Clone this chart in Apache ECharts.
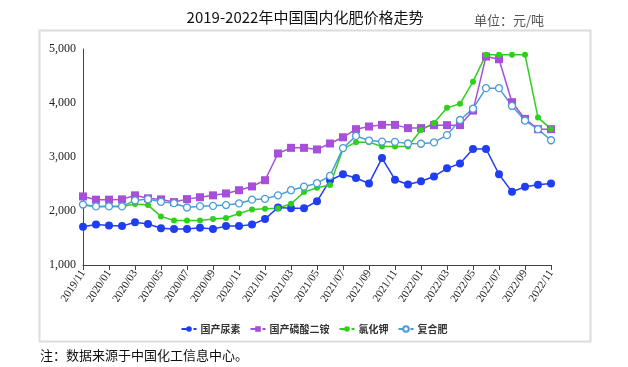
<!DOCTYPE html>
<html>
<head>
<meta charset="utf-8">
<script src="https://cdn.jsdelivr.net/npm/echarts@6/dist/echarts.min.js"></script>
<style>
html,body{margin:0;padding:0;background:#fff;}
#c{width:628px;height:367px;}
</style>
</head>
<body>
<div id="c"></div>
<script>
// Months 2019/11 .. 2022/11
const categories = [];
(function(){ let y=2019,m=11; for(let i=0;i<37;i++){ categories.push(y+'/'+(m<10?'0'+m:m)); m++; if(m>12){m=1;y++;} } })();

const urea = [1710,1750,1730,1720,1790,1760,1680,1665,1665,1690,1665,1720,1720,
  1750,1850,2065,2050,2050,2180,2570,2680,2610,2510,2980,2580,2490,2550,
  2640,2790,2880,3150,3150,2680,2355,2450,2485,2510];
const dap = [2270,2210,2210,2215,2290,2235,2215,2165,2220,2255,2290,2325,2385,
  2455,2570,3065,3170,3170,3140,3250,3365,3515,3565,3595,3595,3535,3535,
  3590,3590,3590,3860,4860,4810,4015,3705,3515,3515];
const potash = [2110,2080,2090,2085,2130,2110,1900,1825,1825,1825,1850,1870,1955,
  2030,2040,2050,2135,2350,2430,2480,3150,3275,3275,3195,3195,3195,3500,
  3630,3910,3985,4395,4895,4895,4895,4895,3730,3520];
const compound = [2120,2085,2085,2085,2195,2220,2170,2145,2065,2090,2095,2110,2140,
  2210,2225,2290,2385,2450,2515,2650,3165,3390,3305,3285,3280,3250,3245,
  3270,3405,3685,3895,4275,4275,3945,3675,3515,3310];
const seriesNames = ['国产尿素','国产磷酸二铵','氯化钾','复合肥'];
const yTicks = [1000,2000,3000,4000,5000];

const chart = echarts.init(document.getElementById('c'), null, {renderer:'canvas'});
const serif = '"Liberation Serif","DejaVu Serif",serif';
const cjk = '"Noto Sans CJK SC","Noto Sans",sans-serif';

function mk(name, data, color, symbol, size, fill){
  return {
    name, type:'line', data, symbol, symbolSize:size,
    lineStyle:{color, width:1.5},
    itemStyle:{color: fill || color, borderColor:color, borderWidth: fill?1.3:0},
    emphasis:{disabled:true}, animation:false
  };
}

chart.setOption({
  animation:false,
  graphic:[
    {type:'rect', shape:{x:39.5,y:30.5,width:551,height:311}, style:{fill:'none', stroke:'#dcdcdc', lineWidth:2}, z:-1},
    {type:'text', x:305, y:17, style:{text:'2019-2022年中国国内化肥价格走势', align:'center', verticalAlign:'middle', font:'15px '+cjk, fill:'#111'}},
    {type:'text', x:509, y:20, style:{text:'单位：元/吨', align:'center', verticalAlign:'middle', font:'13px '+cjk, fill:'#555'}},
    {type:'text', x:40, y:355, style:{text:'注：数据来源于中国化工信息中心。', align:'left', verticalAlign:'middle', font:'13px '+cjk, fill:'#111'}}
  ],
  grid:{left:83, right:77, top:49, bottom:102, containLabel:false},
  legend:{
    data:seriesNames, top:319, left:'center', itemGap:9, itemWidth:15, itemHeight:7,
    lineStyle:{type:'dashed'},
    textStyle:{fontFamily:cjk, fontSize:10, color:'#333', fontWeight:'bold', padding:[0,0,0,-1]}
  },
  xAxis:{
    type:'category', data:categories, boundaryGap:false,
    axisLine:{lineStyle:{color:'#444', width:1}},
    axisTick:{show:true, interval:1, length:5, lineStyle:{color:'#444'}},
    axisLabel:{interval:1, rotate:57, fontFamily:serif, fontSize:11, color:'#222', margin:6}
  },
  yAxis:{
    type:'value', min:yTicks[0], max:yTicks[yTicks.length-1], interval:1000,
    axisLine:{show:true, lineStyle:{color:'#444', width:1}},
    axisTick:{show:false}, splitLine:{show:false},
    axisLabel:{fontFamily:serif, fontSize:12, color:'#222', margin:7,
      formatter:v=>v.toLocaleString('en-US')}
  },
  series:[
    mk(seriesNames[0], urea, '#1f3df2', 'circle', 8),
    mk(seriesNames[1], dap, '#a74fd8', 'rect', 8),
    mk(seriesNames[2], potash, '#2fcf1c', 'circle', 6),
    mk(seriesNames[3], compound, '#4b9dd6', 'circle', 7, '#ffffff')
  ]
});
</script>
</body>
</html>
